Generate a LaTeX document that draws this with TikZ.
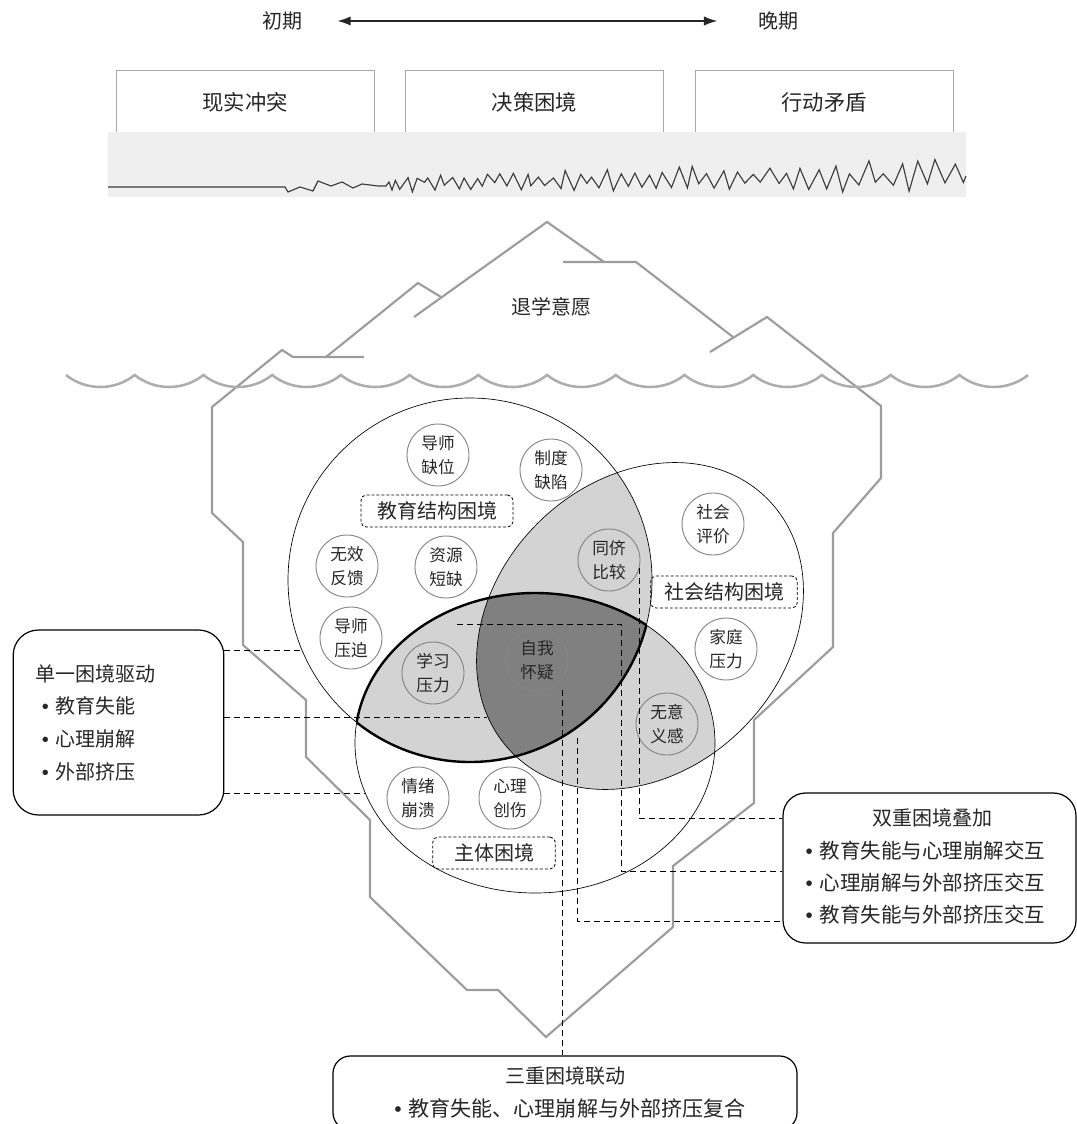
\documentclass[tikz,border=0pt]{standalone}
\usepackage{fontspec}
\setmainfont{Noto Sans CJK SC}
\newfontfamily\bulletfont{Liberation Sans}
\newcommand{\itemdot}{{\bulletfont\symbol{"2022}}\hspace{5pt}}
\usetikzlibrary{positioning,arrows.meta}

\definecolor{ink}{HTML}{262626}
\definecolor{framegray}{HTML}{A8A8A8}
\definecolor{bandgray}{HTML}{EFEFEF}
\definecolor{icegray}{HTML}{9C9C9C}
\definecolor{seagray}{HTML}{ADADAD}
\definecolor{lapgray}{HTML}{D3D3D3}
\definecolor{coregray}{HTML}{808080}
\definecolor{bubblegray}{HTML}{858585}

% the three sets of the venn part
\def\setEdu{(470,580) circle [radius=182]}
\def\setSoc{(640,626) ellipse [x radius=180, y radius=145, rotate=45]}
\def\setSelf{(535,743) ellipse [x radius=180, y radius=150]}

\begin{document}
\begin{tikzpicture}[x=0.75pt,y=-0.75pt,>={Latex[length=10pt,width=7pt]},
		stage/.style={draw=framegray, line width=0.7pt, minimum width=193.5pt, minimum height=48pt, text=ink, font=\fontsize{16}{19}\selectfont},
		bubble/.style={circle, draw=bubblegray, line width=0.7pt, minimum size=46.5pt, inner sep=0pt, align=center, text=ink, font=\fontsize{12.5}{18}\selectfont},
		tag/.style={draw, dash pattern=on 2.2pt off 1.5pt, rounded corners=4pt, line width=0.6pt, minimum height=24pt, text=ink, font=\fontsize{15}{18}\selectfont},
		note/.style={draw, line width=0.9pt, text=ink},
		link/.style={dash pattern=on 4.5pt off 3pt, line width=0.75pt},
		ice/.style={icegray, line width=1.6pt},
		sea/.style={seagray, line width=1.9pt},
		set/.style={line width=0.5pt},
		lens/.style={line width=1.8pt},
		zig/.style={ink!90, line width=0.85pt}]

	\useasboundingbox (0,0) rectangle (1077,1124);

	%%% Time line
	\node[text=ink, font=\fontsize{15}{18}\selectfont] (early) at (282,21) {初期};
	\node[text=ink, font=\fontsize{15}{18}\selectfont] (late) at (778,21) {晚期};
	\draw[<->, ink, line width=1.1pt, shorten <=23pt, shorten >=27pt] (early) -- (late);

	%%% Stages and signal band
	\node[stage] (conflict) at (245,102) {现实冲突};
	\node[stage] (decision) at (534.5,102) {决策困境};
	\node[stage] (action) at (824,102) {行动矛盾};
	\fill[bandgray] (108,132) rectangle (966,197);
	\pgfmathsetseed{23}
	\draw[zig] (108,187) -- (285,187) -- (288,192) -- (300,187) -- (313,191) -- (318,181) -- (331,186)
		-- (342,182) -- (353,188) -- (362,184) -- (378,186) -- (386,186) -- (389,182) -- (392,190)
		\foreach \i in {0,...,79} { -- ({395+5.5*\i+0.0213*\i*\i+4*(rnd-0.5)},
			{183-(1-mod(\i,2))*(6+19*\i/79)*(0.4+0.6*rnd)+mod(\i,2)*(10*rnd-1)}) }
		-- (966,176);

	%%% Iceberg
	\draw[ice] (414,317) -- (547,222) -- (604,262);
	\draw[ice] (563,262) -- (636,262) -- (733,337);
	\draw[ice] (326,357) -- (418,283) -- (441,297);
	\draw[ice] (710,352) -- (767,317) -- (881,406) -- (881,478) -- (833,533) -- (833,647)
		-- (754,720) -- (754,803) -- (673,866) -- (673,927) -- (546,1037) -- (498,990)
		-- (467,990) -- (370,897) -- (370,820) -- (306,757) -- (306,700) -- (243,645)
		-- (243,542) -- (212,513) -- (212,407) -- (282,350) -- (293,357) -- (364,357);
	\node[text=ink, font=\fontsize{15}{18}\selectfont] (intent) at (551,307) {退学意愿};

	%% water line
	\draw[sea] (66,375) \foreach \i in {1,...,14} { arc[start angle=128.5, end angle=51.5, radius=55.2] };

	%%% Venn: overlaps first, then outlines
	\begin{scope}
		\clip \setEdu;
		\fill[lapgray] \setSoc;
		\fill[lapgray] \setSelf;
	\end{scope}
	\begin{scope}
		\clip \setSoc;
		\fill[lapgray] \setSelf;
	\end{scope}
	\begin{scope}
		\clip \setEdu;
		\clip \setSoc;
		\fill[coregray] \setSelf;
	\end{scope}
	\draw[set] \setEdu;
	\draw[set] \setSoc;
	\draw[set] \setSelf;
	\begin{scope}
		\clip \setSelf;
		\draw[lens] \setEdu;
	\end{scope}
	\begin{scope}
		\clip \setEdu;
		\draw[lens] \setSelf;
	\end{scope}

	%% factors
	\node[bubble] (mentorgap) at (438,455) {导师\\缺位};
	\node[bubble] (policy) at (551,470) {制度\\缺陷};
	\node[bubble] (feedback) at (347,566) {无效\\反馈};
	\node[bubble] (resource) at (446,567) {资源\\短缺};
	\node[bubble] (mentorpush) at (351,638) {导师\\压迫};
	\node[bubble] (studyload) at (433,673) {学习\\压力};
	\node[bubble] (selfdoubt) at (537,660) {自我\\怀疑};
	\node[bubble] (peers) at (609,560) {同侪\\比较};
	\node[bubble] (socialview) at (713,524) {社会\\评价};
	\node[bubble] (family) at (726,649) {家庭\\压力};
	\node[bubble] (meaning) at (667,724) {无意\\义感};
	\node[bubble] (mood) at (418,798) {情绪\\崩溃};
	\node[bubble] (trauma) at (510,798) {心理\\创伤};

	\node[tag, minimum width=114pt] (edutag) at (437,511) {教育结构困境};
	\node[tag, minimum width=110pt] (soctag) at (724,592) {社会结构困境};
	\node[tag, minimum width=92pt] (selftag) at (494,853) {主体困境};

	%%% Summary boxes
	\node[note, rounded corners=19pt, text width=125pt, inner xsep=16.5pt, minimum height=138.75pt, align=left,
		font=\fontsize{15}{24.5}\selectfont] (singlebox) at (118.5,722.5)
		{单一困境驱动\\\hspace*{5pt}\itemdot 教育失能\\\hspace*{5pt}\itemdot 心理崩解\\\hspace*{5pt}\itemdot 外部挤压};

	\node[note, rounded corners=17pt, minimum width=219.75pt, minimum height=112.5pt] (dualbox) at (929.5,868) {};
	\node[text=ink, font=\fontsize{15}{18}\selectfont] (dualtitle) at (932,818) {双重困境叠加};
	\node[text=ink, align=left, anchor=west, font=\fontsize{15.4}{24}\selectfont] (duallist) at (801,883)
		{\itemdot 教育失能与心理崩解交互\\\itemdot 心理崩解与外部挤压交互\\\itemdot 教育失能与外部挤压交互};

	\node[note, rounded corners=13pt, minimum width=348pt, minimum height=55.5pt] (triplebox) at (565,1093) {};
	\node[text=ink, font=\fontsize{15}{18}\selectfont, below=5pt of triplebox.north] (tripletitle) {三重困境联动};
	\node[text=ink, font=\fontsize{15.8}{18}\selectfont] (triplelist) at (570,1108) {\itemdot 教育失能、心理崩解与外部挤压复合};

	%%% Leaders
	\coordinate (hitEdu) at (300,650);
	\coordinate (hitEduSelf) at (487,717);
	\coordinate (hitSelf) at (365,793);
	\coordinate (hitEduSoc) at (639,568);
	\coordinate (hitCore) at (457,624);
	\coordinate (hitSocSelf) at (577,738);
	\coordinate (hitAll) at (562,690);

	\draw[link] (singlebox.east |- hitEdu) -- (hitEdu);
	\draw[link] (singlebox.east |- hitEduSelf) -- (hitEduSelf);
	\draw[link] (singlebox.east |- hitSelf) -- (hitSelf);
	\draw[link] (hitEduSoc) |- ([yshift=37.5pt]dualbox.west);
	\draw[link] (hitCore) -- ++(164,0) |- ([yshift=-2.25pt]dualbox.west);
	\draw[link] (hitSocSelf) |- ([yshift=-39.75pt]dualbox.west);
	\draw[link] (hitAll) -- (hitAll |- triplebox.north);
\end{tikzpicture}
\end{document}
